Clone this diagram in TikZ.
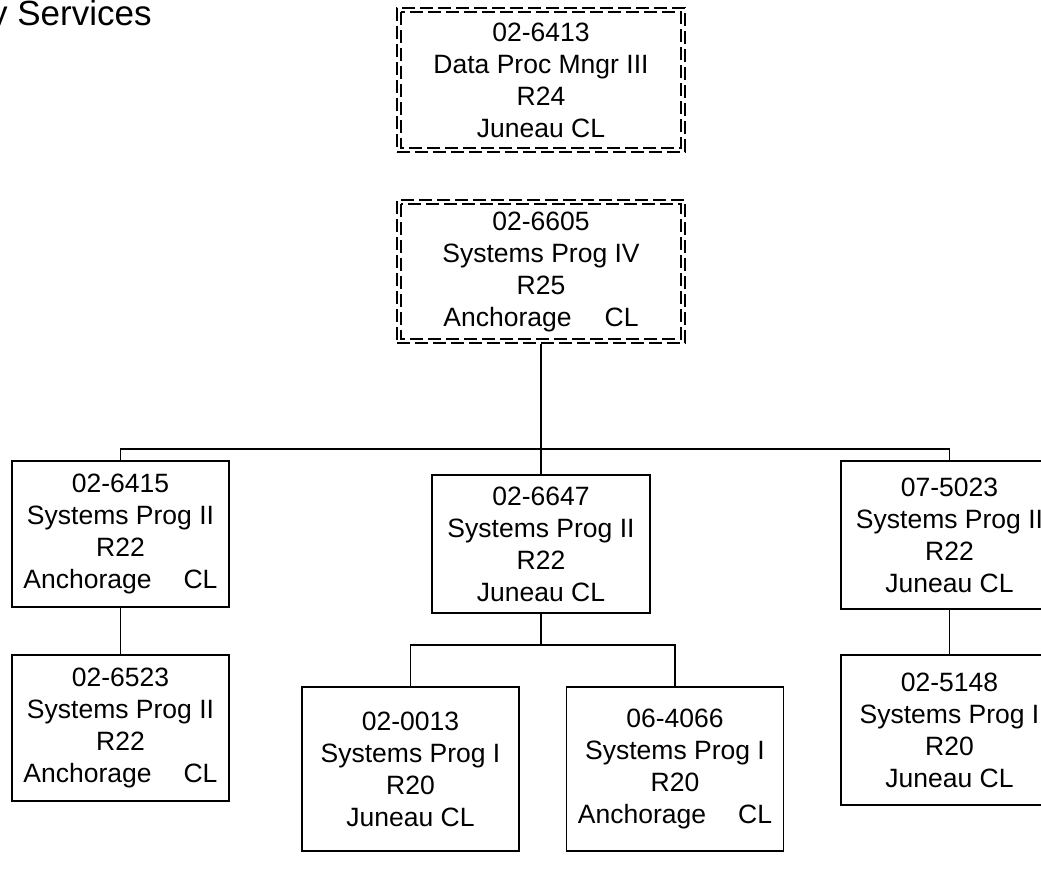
\documentclass[tikz,border=0pt]{standalone}
\usepackage{fontspec}
\setmainfont{Liberation Sans}
\begin{document}
\begin{tikzpicture}[x=1pt,y=-1pt,
  box/.style={draw, line width=1.9pt, minimum width=217pt, align=center, inner sep=0pt, font=\fontsize{26.5}{32}\selectfont},
  dbox/.style={draw, line width=1.9pt, dash pattern=on 13pt off 5pt, minimum width=288pt, minimum height=144pt, align=center, inner sep=0pt, font=\fontsize{26.5}{32}\selectfont},
  conn/.style={line width=1.9pt},
  innerdash/.style={line width=1.9pt, dash pattern=on 13pt off 5pt}
]
\useasboundingbox (0,0) rectangle (1041,868);
\node[anchor=base west, font=\fontsize{35}{40}\selectfont, inner sep=0pt] (title) at (-10,25) {y Services};

\node[dbox] (n1) at (541,80) {02-6413\\Data Proc Mngr III\\R24\\Juneau CL};
\draw[innerdash] ([shift={(5,5)}]n1.north west) rectangle ([shift={(-5,-5)}]n1.south east);
\node[dbox, minimum height=143pt] (n2) at (541,271.5) {02-6605\\Systems Prog IV\\R25\\Anchorage\hspace{33pt}CL};
\draw[innerdash] ([shift={(5,5)}]n2.north west) rectangle ([shift={(-5,-5)}]n2.south east);

\node[box, minimum height=146pt] (n3) at (120.5,534) {02-6415\\Systems Prog II\\R22\\Anchorage\hspace{32pt}CL};
\node[box, minimum width=218pt, minimum height=138pt] (n4) at (541,544) {02-6647\\Systems Prog II\\R22\\Juneau CL};
\node[box, minimum height=148pt] (n5) at (949.5,535) {07-5023\\Systems Prog II\\R22\\Juneau CL};

\node[box, minimum height=146pt] (n6) at (120.5,728) {02-6523\\Systems Prog II\\R22\\Anchorage\hspace{32pt}CL};
\node[box, minimum height=164pt] (n7) at (410.5,769) {02-0013\\Systems Prog I\\R20\\Juneau CL};
\node[box, minimum height=164pt] (n8) at (675,769) {06-4066\\Systems Prog I\\R20\\Anchorage\hspace{32pt}CL};
\node[box, minimum height=150pt] (n9) at (949.5,730) {02-5148\\Systems Prog I\\R20\\Juneau CL};

\coordinate (j1) at (541,449);
\coordinate (j2) at (541,645);
\draw[conn] (n2.south) -- (j1);
\draw[conn] (n3.north) |- (j1) -| (n5.north);
\draw[conn] (j1) -- (n4.north);
\draw[conn] (n3.south) -- (n6.north);
\draw[conn] (n4.south) -- (j2);
\draw[conn] (n7.north) |- (j2) -| (n8.north);
\draw[conn] (n5.south) -- (n9.north);
\end{tikzpicture}
\end{document}
